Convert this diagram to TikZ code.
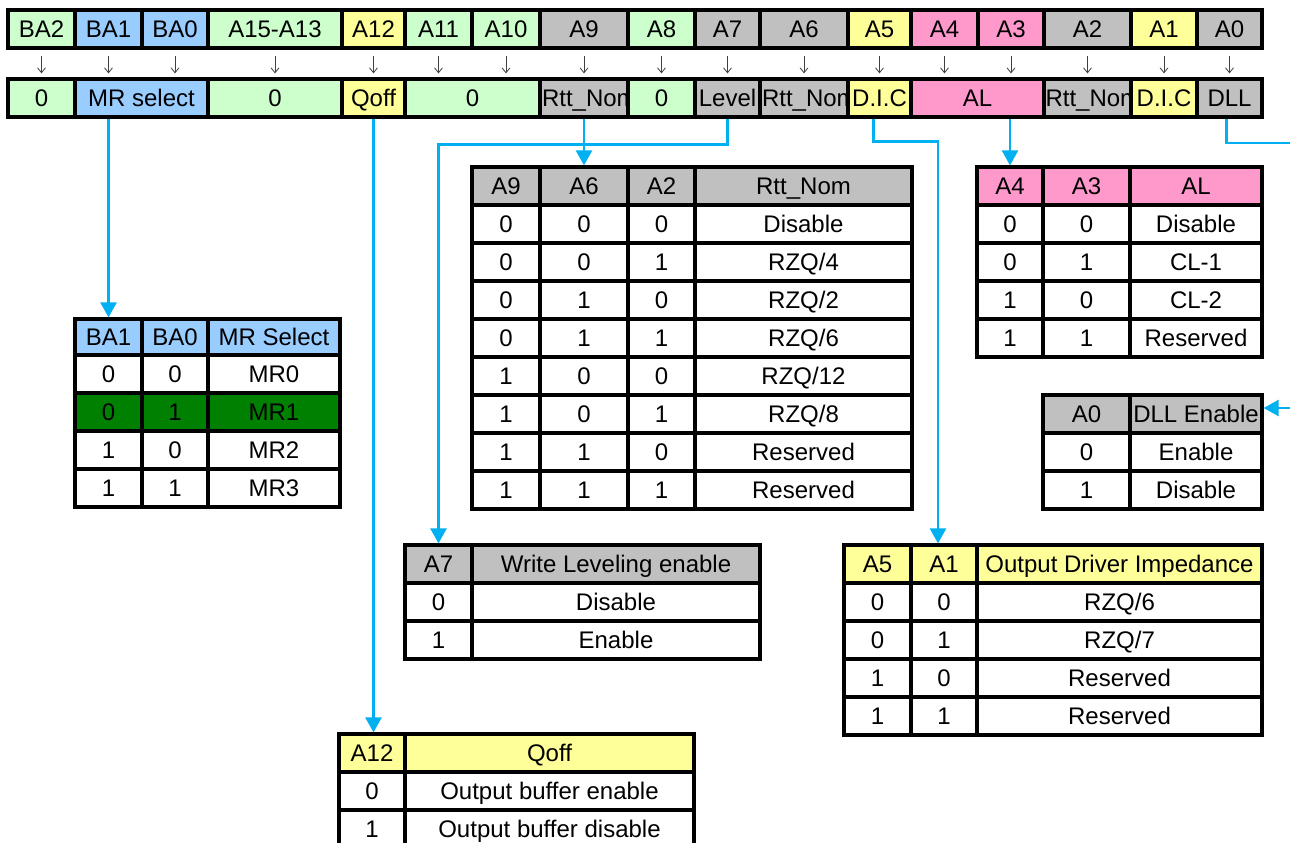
\documentclass[tikz,border=0pt]{standalone}
\usepackage{fontspec}
\setmainfont{Liberation Sans}
\usetikzlibrary{arrows.meta}

\definecolor{bitgreen}{HTML}{CCFFCC}
\definecolor{bitblue}{HTML}{99CCFF}
\definecolor{bityellow}{HTML}{FFFF99}
\definecolor{bitgray}{HTML}{C0C0C0}
\definecolor{bitpink}{HTML}{FF99CC}
\definecolor{selgreen}{HTML}{008000}
\definecolor{linkblue}{HTML}{00B0F0}

% one cell: name, x1, y1, x2, y2, fill, text (pixel coordinates)
\newcommand{\regcell}[7]{%
	\node[cellbox, fill=#6, minimum width={#4-#2}, minimum height={#5-#3}] (#1) at ({(#2+#4)/2},{(#3+#5)/2}) {#7};%
}
\newcommand{\rttnom}{\makebox[84pt][l]{Rtt\_Nom}}

\tikzset{
	cellbox/.style={draw=black, line width=3.2pt, inner sep=0pt, text height=17pt, text depth=0pt, font=\fontsize{24}{28}\selectfont},
	bitarrow/.style={black!75, line width=0.8pt, -{Straight Barb[length=5pt,width=8pt]}, shorten <=6pt, shorten >=4pt},
	link/.style={linkblue, line width=2.5pt},
	linkarrow/.style={link, -{Triangle[length=15pt,width=16pt]}},
}

\begin{document}
\begin{tikzpicture}[x=1pt, y=-1pt]

	\useasboundingbox (0,0) rectangle (1290,843);
	\fill[white] (0,0) rectangle (1290,843);

	% address bits
	\foreach \nm/\xa/\xb/\clr/\txt in {ba2/8/75/bitgreen/BA2, ba1/75/142/bitblue/BA1, ba0/142/208/bitblue/BA0,
		a15/208/342/bitgreen/A15-A13, a12/342/405/bityellow/A12, a11/405/472/bitgreen/A11, a10/472/540/bitgreen/A10,
		a9/540/628/bitgray/A9, a8/628/695/bitgreen/A8, a7/695/760/bitgray/A7, a6/760/848/bitgray/A6,
		a5/848/911/bityellow/A5, a4/911/978/bitpink/A4, a3/978/1044/bitpink/A3, a2/1044/1131/bitgray/A2,
		a1/1131/1197/bityellow/A1, a0/1197/1262/bitgray/A0}
	{
		\regcell{\nm}{\xa}{10}{\xb}{48}{\clr}{\txt}
	} %end for \nm

	% register fields
	\foreach \nm/\xa/\xb/\clr/\txt in {zero1/8/75/bitgreen/0, mrsel/75/208/bitblue/MR select, zero2/208/342/bitgreen/0,
		qoff/342/405/bityellow/Qoff, zero3/405/540/bitgreen/0, rtt1/540/628/bitgray/\rttnom, zero4/628/695/bitgreen/0,
		level/695/760/bitgray/Level, rtt2/760/848/bitgray/\rttnom, dic1/848/911/bityellow/D.I.C,
		al/911/1044/bitpink/AL, rtt3/1044/1131/bitgray/\rttnom, dic2/1131/1197/bityellow/D.I.C, dll/1197/1262/bitgray/DLL}
	{
		\regcell{\nm}{\xa}{79}{\xb}{117}{\clr}{\txt}
	} %end for \nm

	\foreach \nm in {ba2,ba1,ba0,a15,a12,a11,a10,a9,a8,a7,a6,a5,a4,a3,a2,a1,a0}
		\draw[bitarrow] (\nm.south) -- (\nm.south |- zero1.north);

	% MR select table
	\regcell{mt-ba1}{75}{319}{142}{355}{bitblue}{BA1}
	\regcell{mt-ba0}{142}{319}{208}{355}{bitblue}{BA0}
	\regcell{mt-val}{208}{319}{340}{355}{bitblue}{MR Select}
	\foreach \ca/\cb/\val/\clr [count=\i] in {0/0/MR0/white, 0/1/MR1/selgreen, 1/0/MR2/white, 1/1/MR3/white}
	{
		\pgfmathtruncatemacro{\ya}{355+(\i-1)*38}
		\pgfmathtruncatemacro{\yb}{\ya+38}
		\regcell{mt-\i-ba1}{75}{\ya}{142}{\yb}{\clr}{\ca}
		\regcell{mt-\i-ba0}{142}{\ya}{208}{\yb}{\clr}{\cb}
		\regcell{mt-\i-val}{208}{\ya}{340}{\yb}{\clr}{\val}
	} %end for \i

	% Rtt_Nom table
	\regcell{rt-a9}{472}{167}{540}{205}{bitgray}{A9}
	\regcell{rt-a6}{540}{167}{628}{205}{bitgray}{A6}
	\regcell{rt-a2}{628}{167}{695}{205}{bitgray}{A2}
	\regcell{rt-val}{695}{167}{912}{205}{bitgray}{Rtt\_Nom}
	\foreach \ca/\cb/\cc/\val [count=\i] in {0/0/0/Disable, 0/0/1/{RZQ/4}, 0/1/0/{RZQ/2}, 0/1/1/{RZQ/6},
		1/0/0/{RZQ/12}, 1/0/1/{RZQ/8}, 1/1/0/Reserved, 1/1/1/Reserved}
	{
		\pgfmathtruncatemacro{\ya}{205+(\i-1)*38}
		\pgfmathtruncatemacro{\yb}{\ya+38}
		\regcell{rt-\i-a9}{472}{\ya}{540}{\yb}{white}{\ca}
		\regcell{rt-\i-a6}{540}{\ya}{628}{\yb}{white}{\cb}
		\regcell{rt-\i-a2}{628}{\ya}{695}{\yb}{white}{\cc}
		\regcell{rt-\i-val}{695}{\ya}{912}{\yb}{white}{\val}
	} %end for \i

	% AL table
	\regcell{at-a4}{977}{167}{1043}{205}{bitpink}{A4}
	\regcell{at-a3}{1043}{167}{1130}{205}{bitpink}{A3}
	\regcell{at-val}{1130}{167}{1262}{205}{bitpink}{AL}
	\foreach \ca/\cb/\val [count=\i] in {0/0/Disable, 0/1/CL-1, 1/0/CL-2, 1/1/Reserved}
	{
		\pgfmathtruncatemacro{\ya}{205+(\i-1)*38}
		\pgfmathtruncatemacro{\yb}{\ya+38}
		\regcell{at-\i-a4}{977}{\ya}{1043}{\yb}{white}{\ca}
		\regcell{at-\i-a3}{1043}{\ya}{1130}{\yb}{white}{\cb}
		\regcell{at-\i-val}{1130}{\ya}{1262}{\yb}{white}{\val}
	} %end for \i

	% DLL table
	\regcell{dt-a0}{1043}{395}{1130}{433}{bitgray}{A0}
	\regcell{dt-en}{1130}{395}{1262}{433}{bitgray}{DLL Enable}
	\foreach \ca/\val [count=\i] in {0/Enable, 1/Disable}
	{
		\pgfmathtruncatemacro{\ya}{433+(\i-1)*38}
		\pgfmathtruncatemacro{\yb}{\ya+38}
		\regcell{dt-\i-a0}{1043}{\ya}{1130}{\yb}{white}{\ca}
		\regcell{dt-\i-val}{1130}{\ya}{1262}{\yb}{white}{\val}
	} %end for \i

	% write leveling table
	\regcell{wt-a7}{405}{545}{472}{583}{bitgray}{A7}
	\regcell{wt-val}{472}{545}{760}{583}{bitgray}{Write Leveling enable}
	\foreach \ca/\val [count=\i] in {0/Disable, 1/Enable}
	{
		\pgfmathtruncatemacro{\ya}{583+(\i-1)*38}
		\pgfmathtruncatemacro{\yb}{\ya+38}
		\regcell{wt-\i-a7}{405}{\ya}{472}{\yb}{white}{\ca}
		\regcell{wt-\i-val}{472}{\ya}{760}{\yb}{white}{\val}
	} %end for \i

	% driver impedance table
	\regcell{ot-a5}{844}{545}{911}{583}{bityellow}{A5}
	\regcell{ot-a1}{911}{545}{977}{583}{bityellow}{A1}
	\regcell{ot-val}{977}{545}{1262}{583}{bityellow}{Output Driver Impedance}
	\foreach \ca/\cb/\val [count=\i] in {0/0/{RZQ/6}, 0/1/{RZQ/7}, 1/0/Reserved, 1/1/Reserved}
	{
		\pgfmathtruncatemacro{\ya}{583+(\i-1)*38}
		\pgfmathtruncatemacro{\yb}{\ya+38}
		\regcell{ot-\i-a5}{844}{\ya}{911}{\yb}{white}{\ca}
		\regcell{ot-\i-a1}{911}{\ya}{977}{\yb}{white}{\cb}
		\regcell{ot-\i-val}{977}{\ya}{1262}{\yb}{white}{\val}
	} %end for \i

	% Qoff table
	\regcell{qt-a12}{339}{734}{405}{772}{bityellow}{A12}
	\regcell{qt-val}{405}{734}{694}{772}{bityellow}{Qoff}
	\foreach \ca/\val [count=\i] in {0/Output buffer enable, 1/Output buffer disable}
	{
		\pgfmathtruncatemacro{\ya}{772+(\i-1)*38}
		\pgfmathtruncatemacro{\yb}{\ya+38}
		\regcell{qt-\i-a12}{339}{\ya}{405}{\yb}{white}{\ca}
		\regcell{qt-\i-val}{405}{\ya}{694}{\yb}{white}{\val}
	} %end for \i

	% links from the fields to their tables
	\draw[linkarrow] (mrsel.south -| mt-ba1.north) -- (mt-ba1.north);
	\draw[linkarrow] (qoff.south) -- (qoff.south |- qt-a12.north);
	\draw[linkarrow] (rtt1.south) -- (rt-a6.north);
	\draw[linkarrow] (level.south) -- ++(0,26) -| (wt-a7.north);
	\draw[linkarrow] ([xshift=-6pt]dic1.south) -- ++(0,23) -| ([xshift=-6pt]ot-a1.north);
	\draw[linkarrow] (al.south -| at-a4.north) -- (at-a4.north);
	\coordinate (dll-out) at (1290,143);
	\coordinate (dll-in) at (1290,408);
	\draw[link] ([xshift=-3pt]dll.south) |- (dll-out);
	\draw[linkarrow] (dll-in) -- (dll-in -| dt-en.east);

\end{tikzpicture}
\end{document}
